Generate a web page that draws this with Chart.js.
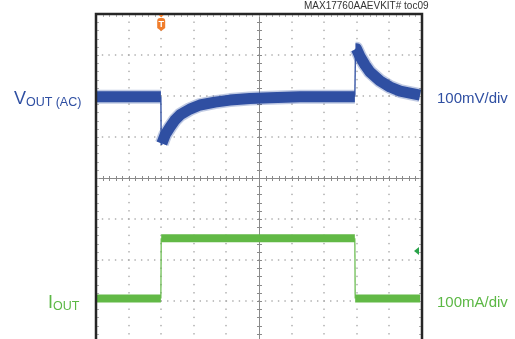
<!DOCTYPE html>
<html>
<head>
<meta charset="utf-8">
<script src="https://cdn.jsdelivr.net/npm/chart.js@4"></script>
<style>
	html, body { margin: 0; padding: 0; background: #fff; overflow: hidden; }
	body { width: 515px; height: 339px; position: relative; font-family: "Liberation Sans", Arial, sans-serif; }
	#wrap { position: absolute; left: 0; top: 0; width: 515px; height: 345px; }
	.lbl { position: absolute; white-space: nowrap; line-height: 1; }
	.blue { color: #2f4fa2; }
	.green { color: #5cb845; }
</style>
</head>
<body>
<div id="wrap"><canvas id="scopeChart"></canvas></div>
<div class="lbl" style="left:304px; top:1px; font-size:10px; color:#333; width:118px; text-align:right;">MAX17760AAEVKIT# toc09</div>
<div class="lbl blue" style="left:14px; top:89px;"><span style="font-size:18px;">V</span><span style="font-size:12.5px; position:relative; top:2px;">OUT (AC)</span></div>
<div class="lbl blue" style="left:437px; top:90px; font-size:15px;">100mV/div</div>
<div class="lbl green" style="left:48px; top:293px;"><span style="font-size:18px;">I</span><span style="font-size:12.5px; position:relative; top:2px;">OUT</span></div>
<div class="lbl green" style="left:437px; top:294px; font-size:15px;">100mA/div</div>
<script>
// time axis in divisions (0..10), amplitude in divisions (-4..4)
const vOutX = [0, 1.99, 2.0, 2.02, 2.12, 2.27, 2.42, 2.58, 2.88, 3.19, 3.65, 4.11, 4.72, 5.34, 6.26, 7.94, 7.96, 7.99, 8.10, 8.25, 8.40, 8.71, 9.02, 9.33, 9.63, 9.94];
const vOutY = [1.98, 1.98, 0.82, 0.84, 1.05, 1.24, 1.41, 1.54, 1.68, 1.78, 1.85, 1.90, 1.94, 1.96, 1.98, 1.98, 3.15, 3.15, 2.96, 2.76, 2.59, 2.37, 2.22, 2.12, 2.07, 2.02];
const iOutX = [0, 1.99, 2.0, 7.94, 7.95, 9.94];
const iOutY = [-2.94, -2.94, -1.47, -1.47, -2.94, -2.94];

const triggerPos = 2.0;
const iOutRef = -1.78;

const BLUE = "#2f4fa2";
const GREEN = "#62b946";

function toPoints(xs, ys) {
	return xs.map((x, i) => ({ x: x, y: ys[i] }));
}

// thin line on the fast edges, thick noisy band elsewhere
function edgeWidth(thick) {
	return (ctx) => (Math.abs(ctx.p1.parsed.x - ctx.p0.parsed.x) < 0.025 ? 1.2 : thick);
}

const scopeGrid = {
	id: "scopeGrid",
	beforeDatasetsDraw(chart) {
		const { ctx, chartArea, scales: { x, y } } = chart;
		ctx.save();
		ctx.fillStyle = "#a8a8a8";
		// dotted vertical lines
		for (let i = 1; i < 10; i++) {
			if (i === 5) continue;
			const px = Math.round(x.getPixelForValue(i));
			for (let j = 0; j <= 40; j++) {
				const py = y.getPixelForValue(-4 + j * 0.2);
				ctx.fillRect(px - 0.7, py - 0.7, 1.4, 1.4);
			}
		}
		// dotted horizontal lines
		for (let k = -3; k <= 3; k++) {
			if (k === 0) continue;
			const py = Math.round(y.getPixelForValue(k));
			for (let j = 0; j <= 50; j++) {
				const px = x.getPixelForValue(j * 0.2);
				ctx.fillRect(px - 0.7, py - 0.7, 1.4, 1.4);
			}
		}
		// center cross with minor ticks
		const cx = Math.round(x.getPixelForValue(5)) + 0.5;
		const cy = Math.round(y.getPixelForValue(0)) + 0.5;
		ctx.strokeStyle = "#8a8a8a";
		ctx.lineWidth = 1;
		ctx.beginPath();
		ctx.moveTo(chartArea.left, cy);
		ctx.lineTo(chartArea.right, cy);
		ctx.moveTo(cx, chartArea.top);
		ctx.lineTo(cx, chartArea.bottom);
		for (let j = 0; j <= 50; j++) {
			const px = Math.round(x.getPixelForValue(j * 0.2)) + 0.5;
			ctx.moveTo(px, cy - 2.5);
			ctx.lineTo(px, cy + 2.5);
		}
		for (let j = 0; j <= 40; j++) {
			const py = Math.round(y.getPixelForValue(-4 + j * 0.2)) + 0.5;
			ctx.moveTo(cx - 2.5, py);
			ctx.lineTo(cx + 2.5, py);
		}
		ctx.stroke();
		// small ticks inside the frame
		ctx.strokeStyle = "#b0b0b0";
		ctx.beginPath();
		for (let j = 1; j < 50; j++) {
			const px = Math.round(x.getPixelForValue(j * 0.2)) + 0.5;
			ctx.moveTo(px, chartArea.top);
			ctx.lineTo(px, chartArea.top + 3);
			ctx.moveTo(px, chartArea.bottom);
			ctx.lineTo(px, chartArea.bottom - 3);
		}
		for (let j = 1; j < 40; j++) {
			const py = Math.round(y.getPixelForValue(-4 + j * 0.2)) + 0.5;
			ctx.moveTo(chartArea.left, py);
			ctx.lineTo(chartArea.left + 3, py);
			ctx.moveTo(chartArea.right, py);
			ctx.lineTo(chartArea.right - 3, py);
		}
		ctx.stroke();
		ctx.restore();
	},
	afterDraw(chart) {
		const { ctx, chartArea, scales: { x, y } } = chart;
		ctx.save();
		// frame
		ctx.strokeStyle = "#262626";
		ctx.lineWidth = 2.5;
		ctx.strokeRect(chartArea.left, chartArea.top, chartArea.right - chartArea.left, chartArea.bottom - chartArea.top);

		// trigger marker
		const tx = x.getPixelForValue(triggerPos);
		const ty = chartArea.top;
		ctx.fillStyle = "#f07d2c";
		ctx.beginPath();
		ctx.moveTo(tx - 2.5, ty + 1);
		ctx.lineTo(tx + 2.5, ty + 1);
		ctx.lineTo(tx, ty + 3.5);
		ctx.closePath();
		ctx.fill();
		ctx.beginPath();
		ctx.moveTo(tx - 4, ty + 7);
		ctx.quadraticCurveTo(tx - 4, ty + 4, tx - 1, ty + 4);
		ctx.lineTo(tx + 1, ty + 4);
		ctx.quadraticCurveTo(tx + 4, ty + 4, tx + 4, ty + 7);
		ctx.lineTo(tx + 4, ty + 14);
		ctx.lineTo(tx, ty + 17);
		ctx.lineTo(tx - 4, ty + 14);
		ctx.closePath();
		ctx.fill();
		ctx.fillStyle = "#fff";
		ctx.font = "bold 9px 'Liberation Sans', Arial";
		ctx.textAlign = "center";
		ctx.textBaseline = "middle";
		ctx.fillText("T", tx, ty + 10.5);

		// channel 2 reference marker
		const rx = chartArea.right - 3;
		const ry = y.getPixelForValue(iOutRef);
		ctx.fillStyle = "#2aa34a";
		ctx.beginPath();
		ctx.moveTo(rx - 5, ry);
		ctx.lineTo(rx, ry - 4);
		ctx.lineTo(rx, ry + 4);
		ctx.closePath();
		ctx.fill();
		ctx.restore();
	},
};

function initScopeChart() {
	const ctx = document.getElementById("scopeChart").getContext("2d");

	new Chart(ctx, {
		type: "line",
		data: {
			datasets: [
				{
					label: "VOUT (AC)",
					data: toPoints(vOutX, vOutY),
					borderColor: BLUE,
					borderWidth: 11,
					pointRadius: 0,
					tension: 0,
					borderJoinStyle: "round",
					segment: { borderWidth: edgeWidth(11) },
					order: 1,
				},
				{
					// noise fringe around the VOUT trace
					label: "VOUT noise",
					data: toPoints(vOutX, vOutY),
					borderColor: "rgba(47, 79, 162, 0.3)",
					borderWidth: 14,
					pointRadius: 0,
					tension: 0,
					borderJoinStyle: "round",
					segment: { borderWidth: edgeWidth(14) },
					order: 2,
				},
				{
					label: "IOUT",
					data: toPoints(iOutX, iOutY),
					borderColor: GREEN,
					borderWidth: 8,
					pointRadius: 0,
					tension: 0,
					segment: { borderWidth: edgeWidth(8) },
					order: 1,
				},
			],
		},
		options: {
			responsive: true,
			maintainAspectRatio: false,
			animation: false,
			layout: { padding: { left: 96, right: 93, top: 14, bottom: 3 } },
			plugins: {
				legend: { display: false },
				tooltip: { enabled: false },
			},
			scales: {
				x: { type: "linear", min: 0, max: 10, display: false },
				y: { min: -4, max: 4, display: false },
			},
		},
		plugins: [scopeGrid],
	});
}

initScopeChart();
</script>
</body>
</html>
